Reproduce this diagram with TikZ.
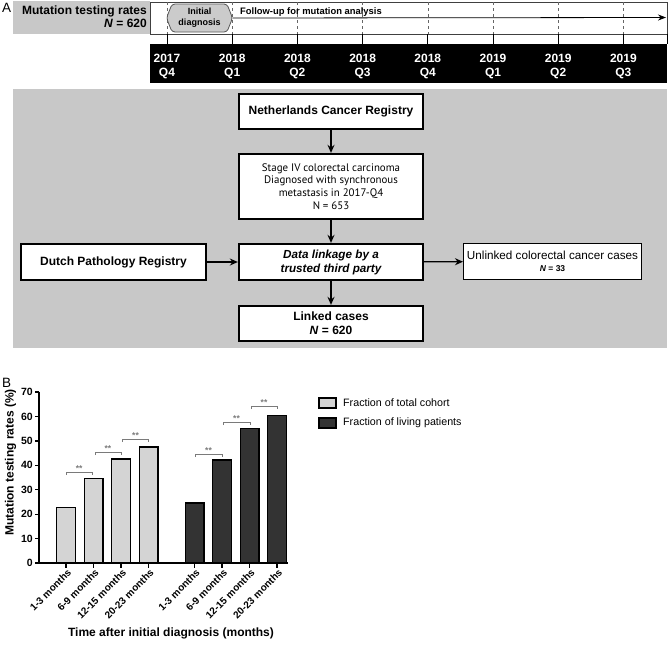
\documentclass[tikz,border=0pt]{standalone}
\usepackage{fontspec}
\setmainfont{Liberation Sans}
\newfontfamily\myriadfont{PT Sans}
\usetikzlibrary{arrows.meta}
\newcommand{\fsz}[2]{\fontsize{#1}{#2}\selectfont}
\definecolor{panelgray}{HTML}{C8C8C8}
\definecolor{hexgray}{HTML}{CBCBCB}
\definecolor{lightbar}{HTML}{D4D4D4}
\definecolor{darkbar}{HTML}{333333}
\definecolor{brkgray}{HTML}{7A7A7A}
\begin{document}
\begin{tikzpicture}[x=1pt,y=-1pt,
  box/.style={draw, line width=2.3pt, fill=white, minimum width=184pt, minimum height=35pt, inner sep=0pt, align=center, font=\bfseries\fsz{12}{14}},
  arr/.style={-{Stealth[length=8pt,width=7pt]}, line width=1.3pt},
  qlab/.style={text=white, align=center, font=\bfseries\fsz{12}{14.5}, inner sep=0pt},
  brk/.style={draw=brkgray, line width=0.9pt},
  star/.style={text=brkgray, font=\bfseries\fsz{8.5}{9}, inner sep=0pt},
  xl/.style={rotate=45, anchor=east, font=\bfseries\fsz{10}{11}, inner sep=0pt},
  yl/.style={anchor=east, font=\bfseries\fsz{10.5}{12}, inner sep=0pt},
  barl/.style={draw, line width=1.4pt, fill=lightbar},
  bard/.style={draw, line width=1.4pt, fill=darkbar}]
\useasboundingbox (0,0) rectangle (669,649);
% ---------------- Panel A : timeline ----------------
\node (labA) [anchor=north west, inner sep=0pt, font=\fsz{13.5}{14}] at (2,3) {A};
\fill[panelgray] (13,1) rectangle (150,34);
\node (mtr) [anchor=base east, inner sep=0pt, font=\bfseries\fsz{12}{14}] at (147,14) {Mutation testing rates};
\node (mtn) [anchor=base east, inner sep=0pt, font=\bfseries\fsz{12}{14}] at (147,27.5) {\textit{N} = 620};
\draw[draw=black!75, line width=0.8pt, fill=white] (150,2) rectangle (667,34);
\foreach \x in {167,232.2,297.4,362.6,427.8,493,558.2,623.4}{
  \draw[draw=black!60, line width=0.6pt, dash pattern=on 3pt off 3pt] (\x,2) -- (\x,34);
  \draw[line width=0.9pt] (\x,34) -- (\x,44);
}
\draw[line width=0.9pt] (667,34) -- (667,44);
\fill[black] (150,44) rectangle (667,83);
\foreach \x/\yy/\q [count=\i] in {167/2017/Q4,232.2/2018/Q1,297.4/2018/Q2,362.6/2018/Q3,427.8/2018/Q4,493/2019/Q1,558.2/2019/Q2,623.4/2019/Q3}{
  \node (yr\i) [qlab, anchor=base] at (\x,62) {\yy};
  \node (qq\i) [qlab, anchor=base] at (\x,76.5) {\q};
}
\path[draw=black!65, fill=hexgray, line width=0.8pt, rounded corners=3pt]
  (172,4) -- (227,4) -- (232.5,18) -- (227,32) -- (172,32) -- (166.5,18) -- cycle;
\node (init) [minimum width=66pt, minimum height=28pt, inner sep=0pt, align=center, font=\bfseries\fsz{9}{11}] at (199.5,18) {Initial\\diagnosis};
\coordinate (tend) at (666,17.5);
\draw[-{Stealth[length=8pt,width=6pt]}, line width=0.8pt] (init.east) -- (tend);
\node (fu) [anchor=base west, inner sep=0pt, font=\bfseries\fsz{9.4}{11}] at (240,14.3) {Follow-up for mutation analysis};
% ---------------- flowchart ----------------
\fill[panelgray] (13,89) rectangle (667,348);
\node (ncr) [box] at (331,111.5) {Netherlands Cancer Registry};
\node (stg) [box, minimum height=65pt, font=\myriadfont\fsz{10.9}{12.8}] at (331,186.5)
  {Stage IV colorectal carcinoma\\Diagnosed with synchronous\\metastasis in 2017-Q4\\N = 653};
\node (dat) [box, minimum height=36pt, font=\bfseries\itshape\fsz{11.7}{14}] at (331,262) {Data linkage by a\\trusted third party};
\node (lnk) [box] at (331,323.5) {Linked cases\\\textit{N} = 620};
\node (dpr) [box, minimum width=185pt, minimum height=36pt] at (113.5,262) {Dutch Pathology Registry};
\node (unl) [draw, line width=1pt, fill=white, minimum width=178pt, minimum height=36pt, inner sep=0pt, align=center, font=\fsz{11.7}{11.5}] at (552.5,261.5)
  {Unlinked colorectal cancer cases\\{\bfseries\fsz{8.5}{10}\textit{N} = 33}};
\draw[arr] (ncr) -- (stg);
\draw[arr] (stg) -- (dat);
\draw[arr] (dat) -- (lnk);
\draw[arr] (dpr) -- (dat);
\draw[arr] (dat) -- (unl);
% ---------------- Panel B : bar chart ----------------
\node (labB) [anchor=north west, inner sep=0pt, font=\fsz{13.5}{14}] at (2,378) {B};
\foreach \c/\v in {66/22.8,93.5/34.7,121/42.5,148.5/47.5}{
  \draw[barl] (\c-9.3,563) rectangle (\c+9.3,{563-\v*2.443});
}
\foreach \c/\v in {194.5/24.5,222/42.2,249.5/55,277/60.5}{
  \draw[bard] (\c-9.3,563) rectangle (\c+9.3,{563-\v*2.443});
}
\draw[line width=1.5pt] (39,391.5) -- (39,563) -- (288,563);
\foreach \v in {0,10,...,70}{
  \draw[line width=1.3pt] (35,{563-\v*2.443}) -- (39,{563-\v*2.443});
  \node (yt\v) [yl] at (33,{563-\v*2.443}) {\v};
}
\foreach \c/\t [count=\i] in {66/1-3 months,93.5/6-9 months,121/12-15 months,148.5/20-23 months,194.5/1-3 months,222/6-9 months,249.5/12-15 months,277/20-23 months}{
  \draw[line width=1.3pt] (\c,563) -- (\c,568);
  \node (xt\i) [xl] at (\c+3.5,571) {\t};
}
\foreach \a/\b/\y [count=\i] in {66/92.5/472,95/121/452,122.5/148.5/439,195/222/454,223/250/422,251/277/406}{
  \draw[brk] (\a,\y+3) -- (\a,\y) -- (\b,\y) -- (\b,\y+3);
  \node (st\i) [star] at ({(\a+\b)/2},\y-3.5) {**};
}
\node (ytitle) [rotate=90, inner sep=0pt, font=\bfseries\fsz{12}{14}] at (10.5,462.5) {Mutation testing rates (\%)};
\node (xtitle) [inner sep=0pt, font=\bfseries\fsz{12}{14}] at (171,633) {Time after initial diagnosis (months)};
\draw[line width=1.2pt, fill=lightbar] (319,398) rectangle (336,408);
\draw[line width=1.2pt, fill=darkbar] (319,418) rectangle (336,428);
\node (lg1) [anchor=west, inner sep=0pt, font=\fsz{10.7}{12}] at (343,403) {Fraction of total cohort};
\node (lg2) [anchor=west, inner sep=0pt, font=\fsz{10.7}{12}] at (343,423) {Fraction of living patients};
\end{tikzpicture}
\end{document}
